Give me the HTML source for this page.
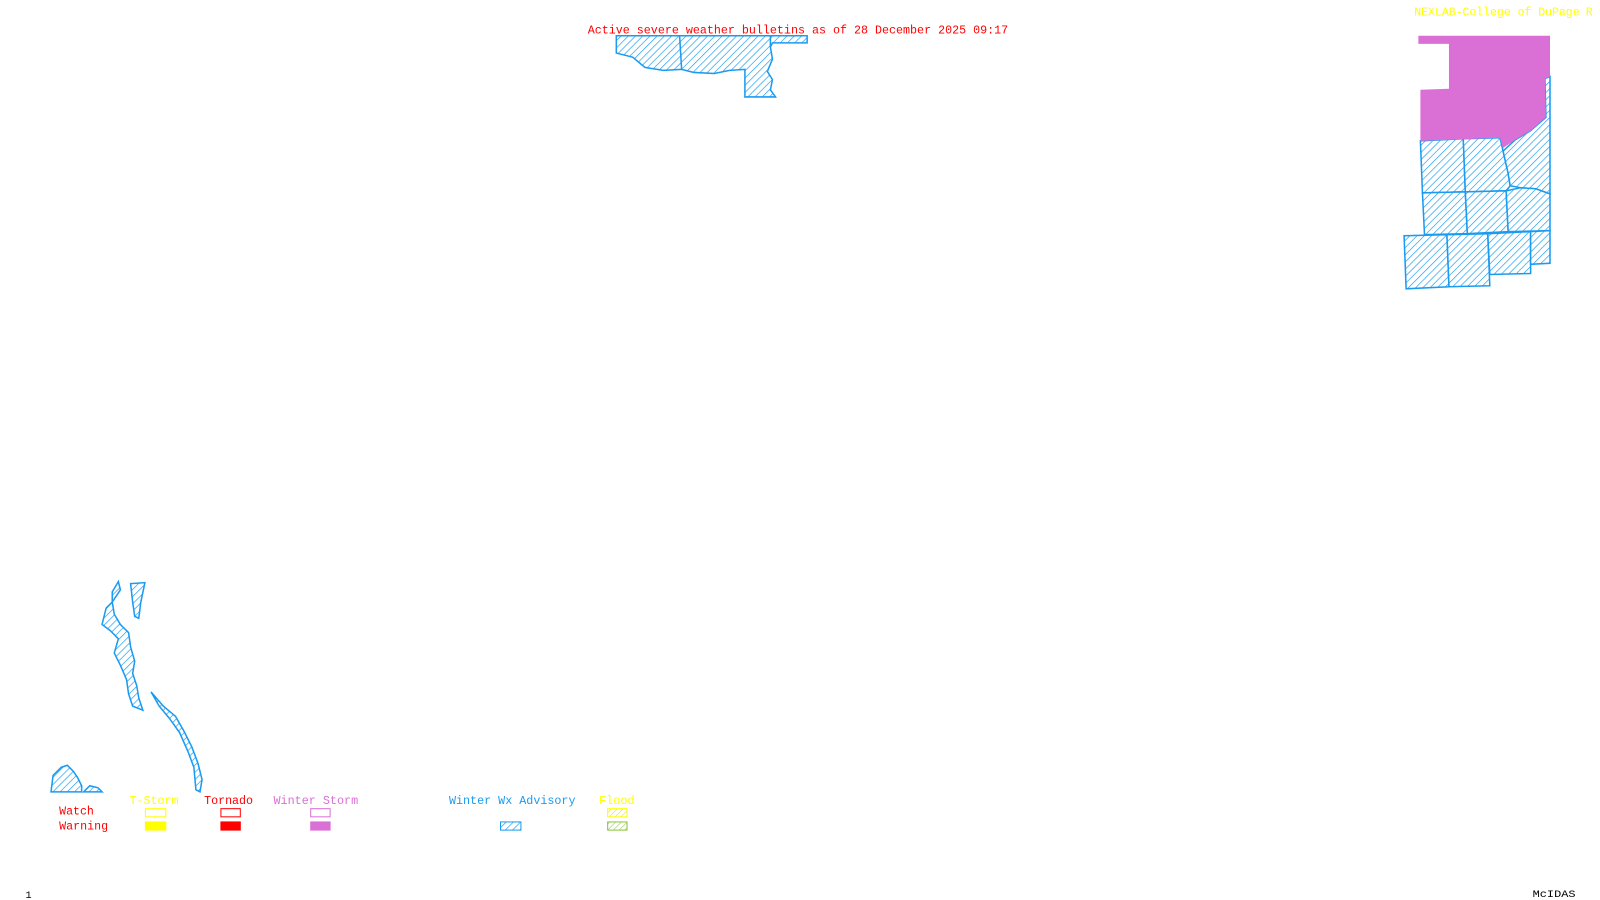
<!DOCTYPE html>
<html><head><style>
body{margin:0;background:#fff;width:1600px;height:900px;overflow:hidden}
svg{position:absolute;left:0;top:0}
text{font-family:"Liberation Mono",monospace;font-size:11.5px}
</style></head><body>
<svg width="1600" height="900" viewBox="0 0 1568 882" preserveAspectRatio="none">
<defs>
<pattern id="h" patternUnits="userSpaceOnUse" width="5" height="5" patternTransform="rotate(45)">
<rect width="5" height="5" fill="#fff"/><line x1="0" y1="0" x2="0" y2="5" stroke="#1a9bf0" stroke-width="1.3"/>
</pattern>
<pattern id="hy" patternUnits="userSpaceOnUse" width="4" height="4" patternTransform="rotate(45)">
<line x1="0" y1="0" x2="0" y2="4" stroke="#dddd00" stroke-width="1"/></pattern>
<pattern id="hg" patternUnits="userSpaceOnUse" width="4" height="4" patternTransform="rotate(45)">
<line x1="0" y1="0" x2="0" y2="4" stroke="#8cc43c" stroke-width="1"/></pattern>
</defs>
<g stroke="#1a9bf0" stroke-width="1.5" fill="url(#h)">
<path d="M604,35 L604,52 L620,56 L632,66 L650,69 L668,68 L680,71 L700,72 L715,69 L730,68 L730,95 L760,95 L755,88 L757,78 L752,70 L757,58 L755,46 L757,42 L791,42 L791,35 Z"/>
<line x1="666" y1="35" x2="668" y2="68"/>
<line x1="755" y1="35" x2="755" y2="46"/>
<path d="M1392,138 L1434,136 L1436,188 L1394,189 Z"/>
<path d="M1434,136 L1470,135 L1473,148 L1478,170 L1480,182 L1476,187 L1436,188 Z"/>
<path d="M1473,148 L1485,137 L1500,128 L1515,115 L1514,77 L1519,75 L1519,190 L1505,185 L1490,184 L1480,182 L1478,170 Z"/>
<path d="M1394,189 L1436,188 L1438,229 L1396,230 Z"/>
<path d="M1436,188 L1476,187 L1478,227 L1438,229 Z"/>
<path d="M1476,187 L1490,184 L1505,185 L1519,190 L1519,226 L1478,227 Z"/>
<path d="M1376,231 L1418,230 L1420,281 L1378,283 Z"/>
<path d="M1418,230 L1458,229 L1460,280 L1420,281 Z"/>
<path d="M1458,229 L1500,227 L1500,268 L1460,269 Z"/>
<path d="M1500,227 L1519,226 L1519,258 L1500,259 Z"/>
<path d="M110,580 L116,570 L118,578 L110,590 L104,596 L100,612 L108,618 L116,626 L112,640 L118,652 L124,666 L126,680 L130,692 L140,696 L136,684 L134,672 L130,660 L132,648 L128,634 L126,620 L118,612 L112,602 L110,590 Z"/>
<path d="M128,572 L142,571 L138,590 L136,606 L132,604 L130,590 Z"/>
<path d="M148,678 L160,692 L172,702 L180,716 L188,732 L194,748 L198,764 L196,776 L192,774 L190,752 L184,736 L176,718 L166,704 L156,692 Z"/>
<path d="M50,776 L52,760 L60,752 L66,750 L72,756 L76,762 L80,770 L80,776 Z"/>
<path d="M82,776 L88,770 L96,772 L100,776 Z"/>
</g>
<path d="M1390,35 L1519,35 L1519,75 L1514,77 L1515,115 L1500,128 L1485,137 L1473,145 L1470,135 L1392,138 L1392,88 L1420,87 L1420,43 L1390,43 Z" fill="#da70d6"/>
<text x="576" y="33" fill="#ff0000" textLength="412" lengthAdjust="spacingAndGlyphs">Active severe weather bulletins as of 28 December 2025 09:17</text>
<text x="1386" y="15" fill="#ffff00" textLength="162" lengthAdjust="spacingAndGlyphs">NEXLAB-College of DuPage</text>
<text x="1554" y="15" fill="#ffff00">R</text>
<text x="127" y="788" fill="#ffff00" textLength="48" lengthAdjust="spacingAndGlyphs">T-Storm</text>
<text x="200" y="788" fill="#ff0000" textLength="48" lengthAdjust="spacingAndGlyphs">Tornado</text>
<text x="268" y="788" fill="#da70d6" textLength="83" lengthAdjust="spacingAndGlyphs">Winter Storm</text>
<text x="440" y="788" fill="#1a9bf0" textLength="124" lengthAdjust="spacingAndGlyphs">Winter Wx Advisory</text>
<text x="587" y="788" fill="#ffff00" textLength="35" lengthAdjust="spacingAndGlyphs">Flood</text>
<text x="58" y="798" fill="#ff0000" textLength="34" lengthAdjust="spacingAndGlyphs">Watch</text>
<text x="58" y="813" fill="#ff0000" textLength="48" lengthAdjust="spacingAndGlyphs">Warning</text>
<rect x="142.5" y="792.5" width="20" height="8" fill="none" stroke="#ffff00"/>
<rect x="142" y="805" width="21" height="9" fill="#ffff00"/>
<rect x="216.5" y="792.5" width="19" height="8" fill="none" stroke="#ff0000"/>
<rect x="216" y="805" width="20" height="9" fill="#ff0000"/>
<rect x="304.5" y="792.5" width="19" height="8" fill="none" stroke="#da70d6"/>
<rect x="304" y="805" width="20" height="9" fill="#da70d6"/>
<rect x="490.5" y="805.5" width="20" height="8" fill="url(#h)" stroke="#1a9bf0"/>
<rect x="595.5" y="792.5" width="19" height="8" fill="url(#hy)" stroke="#ffff00"/>
<rect x="595.5" y="805.5" width="19" height="8" fill="url(#hg)" stroke="#8cc43c"/>
<text x="25" y="880" fill="#000" style="font-size:10px">1</text>
<text x="1502" y="879" fill="#000" style="font-size:10px" textLength="42" lengthAdjust="spacingAndGlyphs">McIDAS</text>
</svg>
</body></html>
